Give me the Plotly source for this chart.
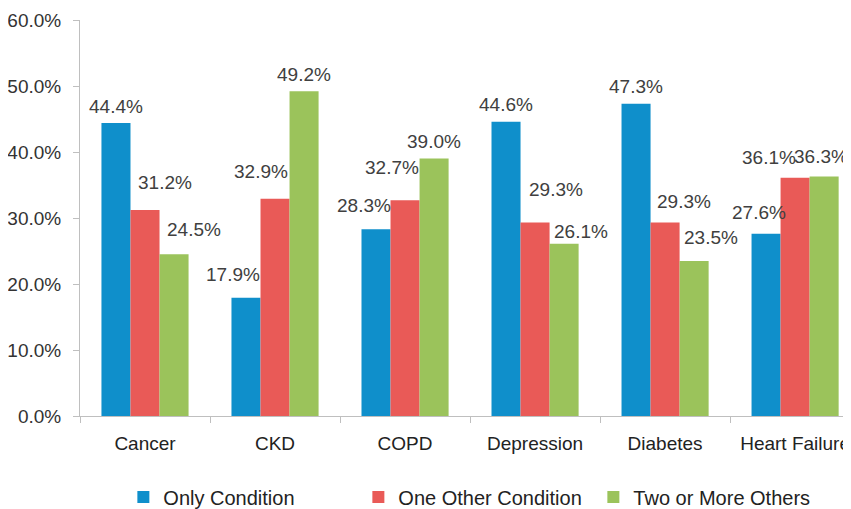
import plotly.graph_objects as go

categories = ["Cancer", "CKD", "COPD", "Depression", "Diabetes", "Heart Failure"]
only_condition = [0.444, 0.179, 0.283, 0.446, 0.473, 0.276]
one_other = [0.312, 0.329, 0.327, 0.293, 0.293, 0.361]
two_or_more = [0.245, 0.492, 0.390, 0.261, 0.235, 0.363]
series_names = ["Only Condition", "One Other Condition", "Two or More Others"]
colors = ["#0f8fcb", "#e95a57", "#9bc35b"]

# label placement tweaks (pixels), mimicking the original's collision-avoided labels
label_dx = [[0, -13, -12, 0, 0, -7],
            [20, -14, -13, 21, 19, -26],
            [20, 0, 0, 17, 17, -3]]
label_dy = [[16, 23, 24, 17, 17, 21],
            [28, 27, 33, 33, 21, 20],
            [25, 17, 17, 12, 23, 20]]

FONT = "Liberation Sans, Arial, sans-serif"
BAR_PX = 29  # horizontal distance between bar centres within a group

fig = go.Figure()
all_series = [only_condition, one_other, two_or_more]
for k, (name, vals, col) in enumerate(zip(series_names, all_series, colors)):
    fig.add_trace(go.Bar(
        x=categories, y=vals, name=name, marker_color=col, marker_line_width=0,
    ))
    for i, (c, v) in enumerate(zip(categories, vals)):
        fig.add_annotation(
            x=c, y=v, xref="x", yref="y", text=f"{v*100:.1f}%", showarrow=False,
            xanchor="center", yanchor="middle",
            xshift=(k - 1) * BAR_PX + label_dx[k][i], yshift=label_dy[k][i],
            font=dict(size=19, color="#404040", family=FONT),
        )

fig.update_layout(
    width=843, height=501,
    margin=dict(l=72, r=0, t=12, b=93, autoexpand=False),
    paper_bgcolor="white", plot_bgcolor="white",
    barmode="group", bargap=0.33, bargroupgap=0,
    font=dict(family=FONT, size=19, color="#404040"),
    showlegend=True,
    legend=dict(orientation="h", xref="container", xanchor="center", x=0.555,
                yref="container", yanchor="middle", y=0.024,
                entrywidth=190, entrywidthmode="pixels",
                font=dict(size=20, color="#222"), itemwidth=30),
    xaxis=dict(range=[-0.5, 5.43], showline=True, linecolor="#bfbfbf", linewidth=1,
               ticks="outside", tickson="boundaries", ticklen=6, tickcolor="#bfbfbf",
               ticklabelstandoff=10, tickfont=dict(size=19, color="#222")),
    yaxis=dict(range=[0, 0.6], dtick=0.1, tickformat=".1%", showgrid=False,
               zeroline=False, showline=True, linecolor="#bfbfbf", linewidth=1,
               ticks="outside", ticklen=6, tickcolor="#bfbfbf", ticklabelstandoff=8,
               tickfont=dict(size=19, color="#333")),
)
fig.write_html("out.html")
